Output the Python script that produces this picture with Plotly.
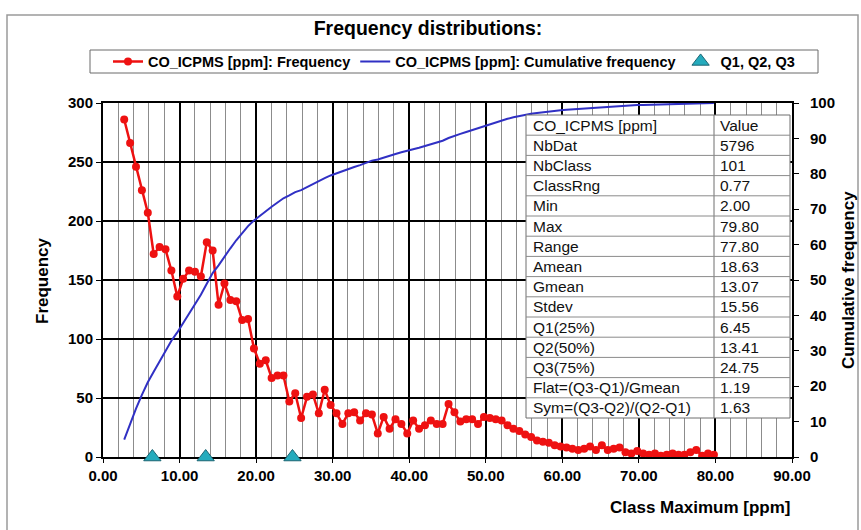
import numpy as np
import plotly.graph_objects as go

# ---- class statistics (CO_ICPMS [ppm]) ----
nb_dat = 5796
nb_class = 101
class_rng = 0.77
v_min = 2.00
v_max = 79.80

# frequency per class (101 classes)
freq = [
    286, 266, 246, 226, 207, 172, 178, 176, 158, 136,
    151, 158, 157, 153, 182, 175, 129, 147, 133, 132,
    116, 117, 92, 79, 82, 67, 69, 69, 47, 54,
    33, 51, 53, 37, 57, 44, 37, 28, 37, 38,
    31, 37, 36, 20, 34, 24, 32, 28, 20, 31,
    24, 27, 31, 28, 28, 45, 38, 30, 32, 32,
    28, 34, 33, 32, 31, 27, 24, 22, 19, 17,
    14, 13, 12, 10, 9, 8, 7, 6, 7, 9,
    6, 10, 6, 7, 8, 4, 3, 5, 3, 2,
    3, 1, 2, 3, 2, 2, 4, 6, 1, 3,
    2,
]

# upper edge of each class
class_edges = np.linspace(v_min, v_max, nb_class + 1)
class_max = class_edges[1:]

cum_freq = np.cumsum(freq) / np.sum(freq) * 100.0

quartile_x = [6.45, 13.41, 24.75]
quartile_y = [0, 0, 0]

stat_header = ["CO_ICPMS [ppm]", "Value"]
stat_names = ["NbDat", "NbClass", "ClassRng", "Min", "Max", "Range", "Amean",
              "Gmean", "Stdev", "Q1(25%)", "Q2(50%)", "Q3(75%)",
              "Flat=(Q3-Q1)/Gmean", "Sym=(Q3-Q2)/(Q2-Q1)"]
stat_values = ["5796", "101", "0.77", "2.00", "79.80", "77.80", "18.63",
               "13.07", "15.56", "6.45", "13.41", "24.75", "1.19", "1.63"]

x_ticks = [0, 10, 20, 30, 40, 50, 60, 70, 80, 90]

# ---- geometry helpers (pixel -> paper) ----
W, H = 861, 530
L, R, T, B = 103, 69, 103, 73
PW, PH = W - L - R, H - T - B


def px(x):
    return (x - L) / PW


def py(y):
    return (H - B - y) / PH


FONT = "Liberation Sans, Arial, sans-serif"

fig = go.Figure()

fig.add_trace(go.Scatter(
    x=class_max, y=freq, mode="lines+markers",
    name="CO_ICPMS [ppm]: Frequency",
    line=dict(color="#ee1111", width=2.5),
    marker=dict(color="#ee1111", size=8, symbol="circle"),
))

fig.add_trace(go.Scatter(
    x=class_max, y=cum_freq, mode="lines", yaxis="y2",
    name="CO_ICPMS [ppm]: Cumulative frequency",
    line=dict(color="#3030c4", width=2),
))

fig.add_trace(go.Scatter(
    x=quartile_x, y=quartile_y, mode="markers", name="Q1, Q2, Q3",
    marker=dict(symbol="triangle-up", size=15, color="#25abbd",
                line=dict(color="#1b6472", width=1)),
    cliponaxis=False,
))

axis_font = dict(family=FONT, size=15, color="black", weight="bold")
title_font = dict(family=FONT, size=17, color="black", weight="bold")
table_font = dict(family=FONT, size=15.5, color="#111111")

shapes = [
    # outer chart frame
    dict(type="rect", xref="paper", yref="paper",
         x0=px(7), x1=px(858), y0=py(545), y1=py(15),
         line=dict(color="#9a9a9a", width=1.5), layer="below"),
    # legend box
    dict(type="rect", xref="paper", yref="paper",
         x0=px(90), x1=px(818), y0=py(73), y1=py(50),
         line=dict(color="#6a6a6a", width=1), layer="below"),
]

annotations = [
    dict(text="Frequency", xref="paper", yref="paper", x=px(42), y=0.5,
         textangle=-90, showarrow=False, xanchor="center", yanchor="middle",
         font=title_font),
    dict(text="Cumulative frequency", xref="paper", yref="paper",
         x=px(848), y=0.5, textangle=-90, showarrow=False,
         xanchor="center", yanchor="middle", font=title_font),
    dict(text="Class Maximum [ppm]", xref="paper", yref="paper",
         x=px(700), y=py(507), showarrow=False,
         xanchor="center", yanchor="middle", font=title_font),
]

# ---- statistics table drawn over the plot area ----
tbl_left, tbl_mid, tbl_right = 526, 714, 790
tbl_top, row_h = 115, 20.2
rows = [stat_header] + [[n, v] for n, v in zip(stat_names, stat_values)]
tbl_bottom = tbl_top + row_h * len(rows)

shapes.append(dict(type="rect", xref="paper", yref="paper",
                   x0=px(tbl_left), x1=px(tbl_right),
                   y0=py(tbl_bottom), y1=py(tbl_top),
                   fillcolor="white", line=dict(color="#6f6f6f", width=1),
                   layer="above"))
shapes.append(dict(type="line", xref="paper", yref="paper",
                   x0=px(tbl_mid), x1=px(tbl_mid),
                   y0=py(tbl_bottom), y1=py(tbl_top),
                   line=dict(color="#6f6f6f", width=1), layer="above"))
for k in range(1, len(rows)):
    yk = tbl_top + row_h * k
    shapes.append(dict(type="line", xref="paper", yref="paper",
                       x0=px(tbl_left), x1=px(tbl_right),
                       y0=py(yk), y1=py(yk),
                       line=dict(color="#8a8a8a", width=1), layer="above"))
for k, (name, val) in enumerate(rows):
    yc = tbl_top + row_h * (k + 0.5)
    annotations.append(dict(text=name, xref="paper", yref="paper",
                            x=px(tbl_left + 5), y=py(yc), showarrow=False,
                            xanchor="left", yanchor="middle", font=table_font))
    annotations.append(dict(text=val, xref="paper", yref="paper",
                            x=px(tbl_mid + 4), y=py(yc), showarrow=False,
                            xanchor="left", yanchor="middle", font=table_font))

fig.update_layout(
    width=W, height=H,
    margin=dict(l=L, r=R, t=T, b=B, pad=0),
    paper_bgcolor="white", plot_bgcolor="white",
    font=dict(family=FONT, color="black"),
    title=dict(text="Frequency distributions:", x=428 / W, xanchor="center",
               y=1 - 28 / H, yanchor="middle",
               font=dict(family=FONT, size=19.5, color="black", weight="bold")),
    showlegend=True,
    legend=dict(orientation="h", x=px(454), xanchor="center",
                y=py(61.5), yanchor="middle", bgcolor="rgba(0,0,0,0)",
                font=dict(family=FONT, size=14.5, color="black", weight="bold"),
                itemwidth=30, itemsizing="trace"),
    xaxis=dict(range=[0, 90], tickvals=x_ticks, tickformat=".2f",
               showgrid=True, gridcolor="black", gridwidth=2,
               minor=dict(dtick=2, tick0=0, showgrid=True,
                          gridcolor="#8c8c8c", gridwidth=1),
               showline=True, linecolor="black", linewidth=2, mirror=True,
               ticks="outside", ticklen=4, tickcolor="black",
               zeroline=False, tickfont=axis_font, layer="below traces"),
    yaxis=dict(range=[0, 300], dtick=50, showgrid=True, gridcolor="black",
               gridwidth=2, showline=True, linecolor="black", linewidth=2,
               mirror=True, ticks="outside", ticklen=5, tickcolor="black",
               zeroline=False, tickfont=axis_font, layer="below traces"),
    yaxis2=dict(range=[0, 100], dtick=10, overlaying="y", side="right",
                showgrid=False, showline=True, linecolor="black", linewidth=2,
                ticks="outside", ticklen=5, tickcolor="black", zeroline=False,
                ticklabelstandoff=8, tickfont=axis_font),
    shapes=shapes,
    annotations=annotations,
)

fig.write_html("out.html")
